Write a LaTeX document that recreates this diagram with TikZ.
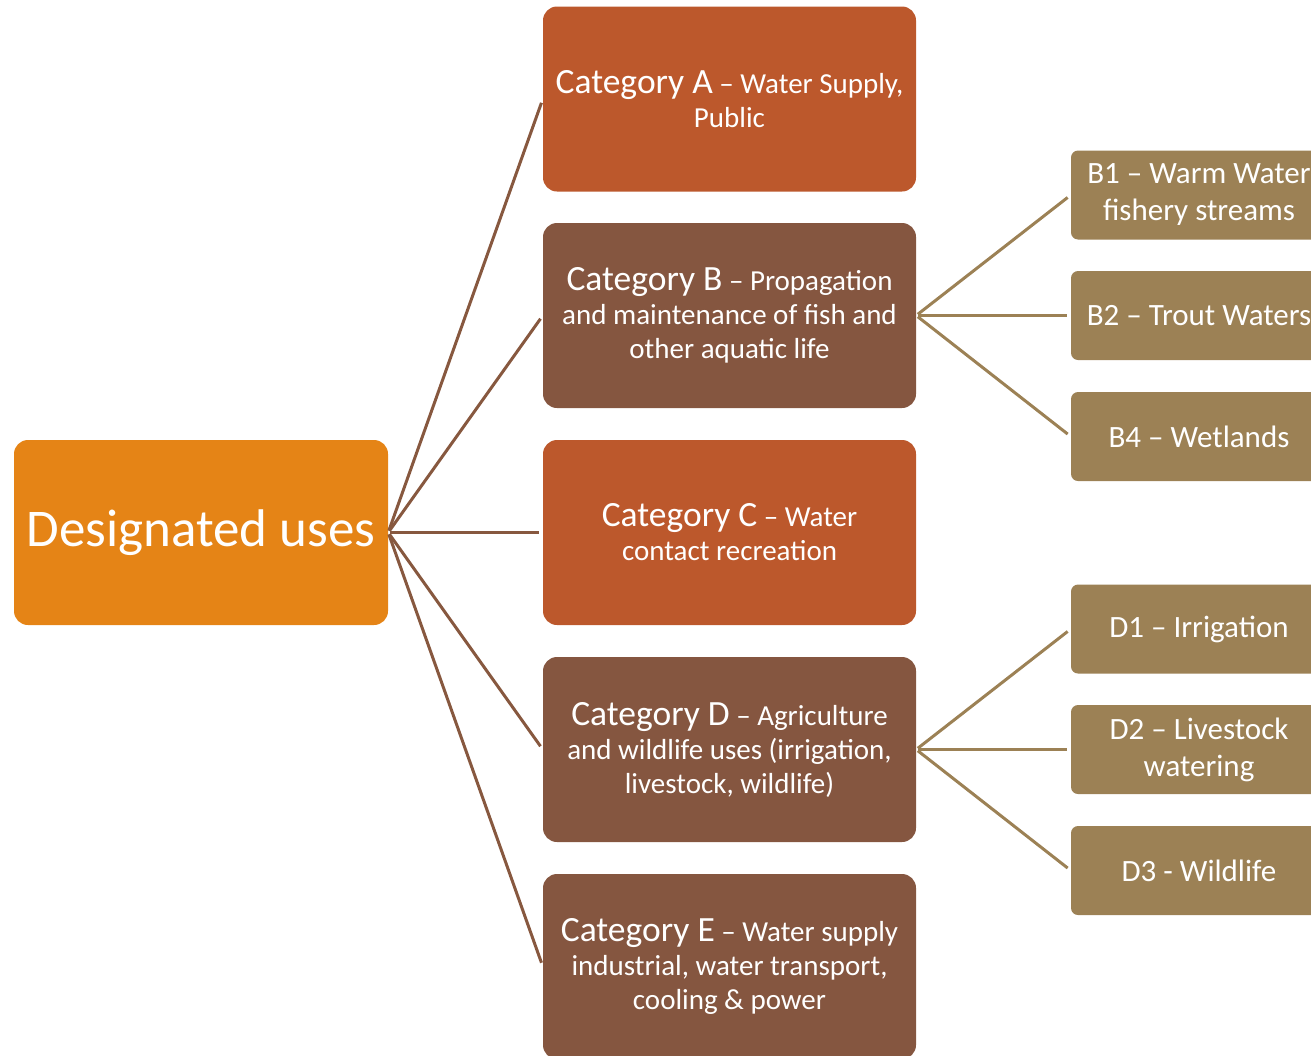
\documentclass[tikz,border=0pt]{standalone}
\usepackage{fontspec}
\setmainfont{Carlito}
\definecolor{rootc}{HTML}{E58416}
\definecolor{rustc}{HTML}{BC582C}
\definecolor{brownc}{HTML}{855640}
\definecolor{tanc}{HTML}{9C8155}
\definecolor{linec}{HTML}{87583F}
\newcommand{\catlead}[1]{{\fontsize{35.5}{34}\selectfont #1}}
\tikzset{
  box/.style={rectangle, rounded corners=14pt, minimum width=373pt, minimum height=185pt, inner sep=0pt, align=center, text=white, font=\fontsize{29}{34}\selectfont},
  subbox/.style={rectangle, rounded corners=7pt, fill=tanc, minimum width=256pt, minimum height=89pt, inner sep=0pt, align=center, text=white, font=\fontsize{31}{37}\selectfont},
  mainlink/.style={draw=linec, line width=3pt, shorten <=2pt, shorten >=4pt},
  sublink/.style={draw=tanc, line width=3pt, shorten <=2pt, shorten >=4pt}
}
\begin{document}
\begin{tikzpicture}[x=1pt,y=-1pt]
\useasboundingbox (0,0) rectangle (1311,1055);
\clip (0,0) rectangle (1311,1055);
\node[box, fill=rootc, minimum width=374pt, font=\fontsize{53}{60}\selectfont] (root) at (201,532.5) {Designated uses};
\node[box, fill=rustc] (A) at (729.5,99) {\catlead{Category A} – Water Supply,\\Public};
\node[box, fill=brownc] (B) at (729.5,315.5) {\catlead{Category B} – Propagation\\and maintenance of fish and\\other aquatic life};
\node[box, fill=rustc] (C) at (729.5,532.5) {\catlead{Category C} – Water\\contact recreation};
\node[box, fill=brownc] (D) at (729.5,749.5) {\catlead{Category D} – Agriculture\\and wildlife uses (irrigation,\\livestock, wildlife)};
\node[box, fill=brownc] (E) at (729.5,966.5) {\catlead{Category E} – Water supply\\industrial, water transport,\\cooling \& power};
\node[subbox] (B1) at (1199,195) {B1 – Warm Water\\fishery streams};
\node[subbox] (B2) at (1199,315.5) {B2 – Trout Waters};
\node[subbox] (B4) at (1199,436.5) {B4 – Wetlands};
\node[subbox] (D1) at (1199,629) {D1 – Irrigation};
\node[subbox] (D2) at (1199,749.5) {D2 – Livestock\\watering};
\node[subbox] (D3) at (1199,870.5) {D3 - Wildlife};
\foreach \t in {A,B,C,D,E} \draw[mainlink] (root.east) -- (\t.west);
\foreach \t in {B1,B2,B4} \draw[sublink] (B.east) -- (\t.west);
\foreach \t in {D1,D2,D3} \draw[sublink] (D.east) -- (\t.west);
\end{tikzpicture}
\end{document}
